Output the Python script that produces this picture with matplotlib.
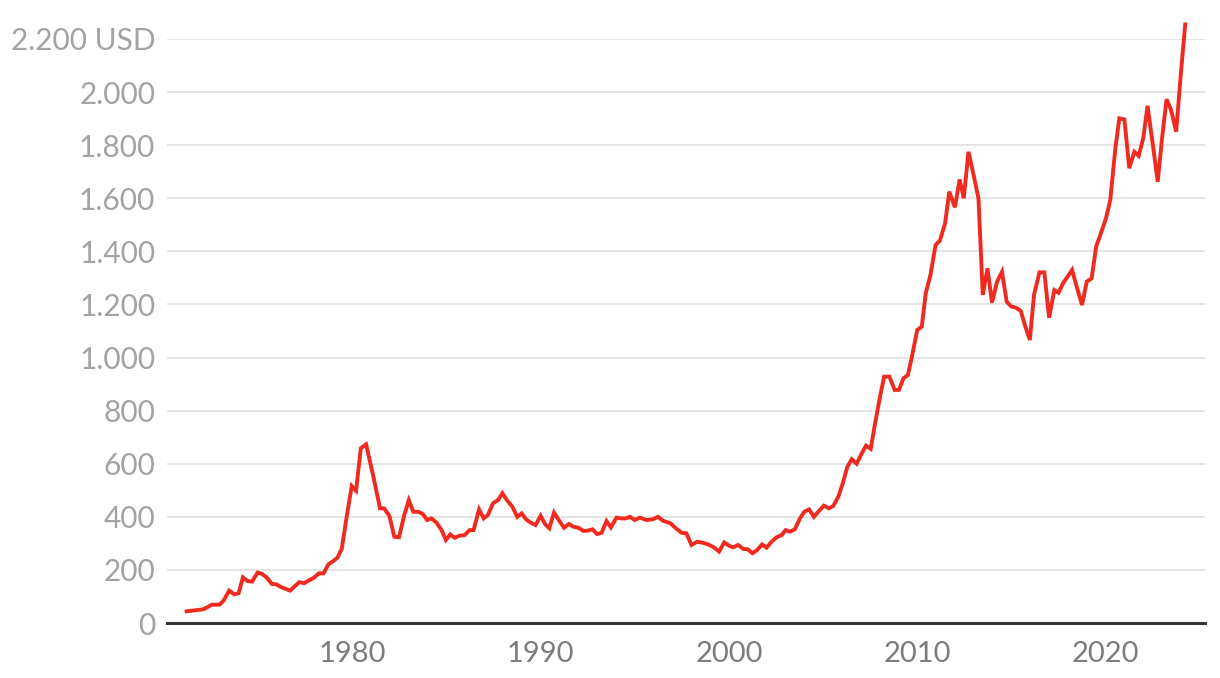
import matplotlib
matplotlib.use('Agg')
import matplotlib.pyplot as plt

# gold price, USD per ounce
years = [1971.19, 1972.09, 1972.54, 1972.94, 1973.15, 1973.45, 1973.72, 1973.95, 1974.18, 1974.43,
         1974.67, 1974.96, 1975.19, 1975.45, 1975.72, 1975.95, 1976.19, 1976.69, 1976.94, 1977.18,
         1977.43, 1977.71, 1977.96, 1978.21, 1978.46, 1978.72, 1978.99, 1979.2, 1979.43, 1979.69,
         1979.96, 1980.19, 1980.44, 1980.72, 1981.11, 1981.46, 1981.68, 1981.96, 1982.22, 1982.47,
         1982.75, 1982.99, 1983.23, 1983.49, 1983.73, 1983.97, 1984.19, 1984.46, 1984.73, 1984.96,
         1985.19, 1985.42, 1985.69, 1985.95, 1986.22, 1986.43, 1986.72, 1986.97, 1987.19, 1987.46,
         1987.73, 1987.96, 1988.2, 1988.49, 1988.75, 1988.98, 1989.21, 1989.46, 1989.72, 1989.99,
         1990.22, 1990.45, 1990.7, 1990.98, 1991.23, 1991.49, 1991.72, 1991.99, 1992.26, 1992.49,
         1992.75, 1992.99, 1993.23, 1993.49, 1993.72, 1994.02, 1994.29, 1994.51, 1994.73, 1994.99,
         1995.26, 1995.61, 1995.96, 1996.23, 1996.49, 1996.88, 1997.17, 1997.47, 1997.73, 1998.0,
         1998.3, 1998.62, 1998.89, 1999.19, 1999.47, 1999.74, 2000.0, 2000.21, 2000.48, 2000.75,
         2000.98, 2001.24, 2001.49, 2001.75, 2001.99, 2002.25, 2002.52, 2002.79, 2003.0, 2003.23,
         2003.49, 2003.76, 2003.99, 2004.25, 2004.5, 2004.77, 2005.03, 2005.3, 2005.53, 2005.8,
         2006.06, 2006.27, 2006.51, 2006.77, 2007.04, 2007.27, 2007.52, 2007.75, 2007.98, 2008.23,
         2008.51, 2008.79, 2009.02, 2009.26, 2009.49, 2009.69, 2009.99, 2010.23, 2010.44, 2010.69,
         2010.96, 2011.19, 2011.47, 2011.69, 2011.99, 2012.24, 2012.46, 2012.71, 2012.98, 2013.24,
         2013.47, 2013.72, 2013.96, 2014.23, 2014.49, 2014.74, 2014.99, 2015.23, 2015.49, 2015.72,
         2015.97, 2016.19, 2016.48, 2016.74, 2016.99, 2017.27, 2017.49, 2017.75, 2017.98, 2018.21,
         2018.48, 2018.74, 2018.99, 2019.25, 2019.49, 2019.75, 2020.01, 2020.24, 2020.51, 2020.72,
         2020.99, 2021.25, 2021.52, 2021.75, 2021.99, 2022.22, 2022.49, 2022.76, 2022.99, 2023.23,
         2023.47, 2023.74, 2023.99, 2024.22]
price = [44, 52, 69, 69, 84, 122, 108, 112, 172, 158,
         156, 190, 185, 171, 147, 146, 136, 122, 139, 154,
         150, 161, 171, 187, 187, 221, 234, 246, 280, 400,
         516, 498, 658, 673, 551, 432, 432, 403, 325, 323,
         407, 463, 419, 419, 411, 388, 394, 378, 350, 313,
         334, 321, 329, 331, 350, 350, 428, 394, 407, 451,
         463, 489, 463, 438, 400, 413, 391, 378, 369, 404,
         373, 357, 416, 385, 359, 373, 363, 359, 347, 348,
         353, 335, 340, 384, 360, 397, 394, 394, 400, 388,
         397, 388, 391, 400, 385, 376, 357, 340, 338, 294,
         306, 302, 296, 285, 269, 304, 291, 285, 294, 279,
         278, 263, 275, 296, 284, 306, 323, 331, 350, 344,
         353, 394, 419, 428, 400, 422, 442, 432, 441, 476,
         532, 587, 617, 600, 639, 668, 656, 752, 840, 928,
         928, 878, 878, 922, 934, 997, 1104, 1116, 1242, 1311,
         1424, 1440, 1506, 1625, 1566, 1671, 1600, 1775, 1688, 1600,
         1236, 1336, 1207, 1286, 1323, 1210, 1192, 1188, 1175, 1119,
         1066, 1236, 1321, 1321, 1150, 1254, 1244, 1282, 1305, 1330,
         1261, 1198, 1286, 1298, 1418, 1470, 1524, 1593, 1788, 1901,
         1897, 1713, 1775, 1760, 1826, 1948, 1807, 1662, 1826, 1973,
         1932, 1851, 2071, 2255]

y_ticks = [0, 200, 400, 600, 800, 1000, 1200, 1400, 1600, 1800, 2000, 2200]
y_labels = ['0', '200', '400', '600', '800', '1.000', '1.200', '1.400', '1.600',
            '1.800', '2.000', '2.200 USD']
x_ticks = [1980, 1990, 2000, 2010, 2020]

plt.rcParams['font.family'] = ['Lato', 'DejaVu Sans']

fig = plt.figure(figsize=(12.2, 6.78), dpi=100)
ax = fig.add_axes([0.1369, 0.0811, 0.8508, 0.8614])

ax.plot(years, price, color='#f12a20', lw=2.8, solid_joinstyle='miter', clip_on=False, zorder=3)

ax.set_xlim(1970.15, 2025.27)
ax.set_ylim(0, 2200)

ax.set_yticks(y_ticks)
ax.set_yticklabels(y_labels)
ax.set_xticks(x_ticks)
ax.set_xticklabels([str(x) for x in x_ticks])

ax.grid(axis='y', color='#e2e2e2', lw=1.3)
ax.set_axisbelow(True)
for s in ['top', 'right', 'left']:
    ax.spines[s].set_visible(False)
ax.spines['bottom'].set_color('#333333')
ax.spines['bottom'].set_linewidth(2.2)

ax.tick_params(axis='y', length=0, pad=8.5, labelsize=21.5, labelcolor='#a3a3a3')
ax.tick_params(axis='x', length=0, pad=13, labelsize=21, labelcolor='#7c7c7c')

fig.savefig('out.png', dpi=100)
